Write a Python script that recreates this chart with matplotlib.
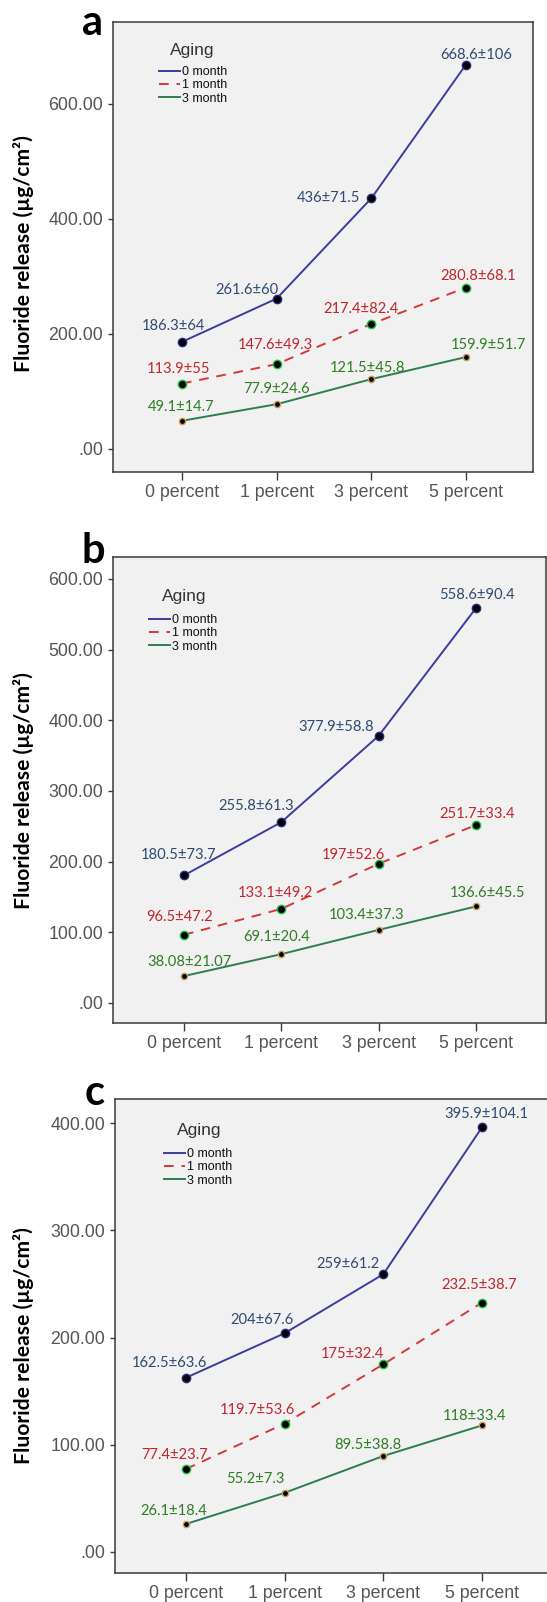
import matplotlib
matplotlib.use("Agg")
import matplotlib.pyplot as plt

W, H = 547, 1602

months = ["0 month", "1 month", "3 month"]
categories = ["0 percent", "1 percent", "3 percent", "5 percent"]

# panel a
a_mean = [[186.3, 261.6, 436, 668.6],
          [113.9, 147.6, 217.4, 280.8],
          [49.1, 77.9, 121.5, 159.9]]
a_sd = [[64, 60, 71.5, 106],
        [55, 49.3, 82.4, 68.1],
        [14.7, 24.6, 45.8, 51.7]]
a_yticks = [0, 200, 400, 600]

# panel b
b_mean = [[180.5, 255.8, 377.9, 558.6],
          [96.5, 133.1, 197, 251.7],
          [38.08, 69.1, 103.4, 136.6]]
b_sd = [[73.7, 61.3, 58.8, 90.4],
        [47.2, 49.2, 52.6, 33.4],
        [21.07, 20.4, 37.3, 45.5]]
b_yticks = [0, 100, 200, 300, 400, 500, 600]

# panel c
c_mean = [[162.5, 204, 259, 395.9],
          [77.4, 119.7, 175, 232.5],
          [26.1, 55.2, 89.5, 118]]
c_sd = [[63.6, 67.6, 61.2, 104.1],
        [23.7, 53.6, 32.4, 38.7],
        [18.4, 7.3, 38.8, 33.4]]
c_yticks = [0, 100, 200, 300, 400]

line_colors = ["#3c3c9c", "#d23a3a", "#2e7d4e"]
text_colors = ["#2f4a70", "#c0262b", "#2f7d24"]
marker_edges = ["#2a2a80", "#1fc040", "#c8a060"]
marker_sizes = [6, 6, 4.5]
line_styles = ["-", (0, (5, 4)), "-"]

# label offsets in pixels (dx, dy up) per panel / series / point
a_off = [[(-8.5, 17), (-30, 10), (-43, 1.5), (10, 11)],
         [(-3.5, 15.5), (-1, 20), (-10.5, 16), (12, 13)],
         [(-1, 15), (0, 16.5), (-4, 12.5), (22, 13)]]
b_off = [[(-5, 21.5), (-25, 17), (-42, 10), (1.5, 14)],
         [(-4, 19), (-6, 17.6), (-25.5, 9.5), (1.5, 12.4)],
         [(6, 15.4), (-5, 18), (-12, 16.5), (11.5, 14.5)]]
c_off = [[(-16.6, 15.7), (-23, 14.3), (-35.3, 11.2), (4, 14.7)],
         [(-11.6, 15), (-27, 14.8), (-31, 11.8), (-2.8, 19)],
         [(-12, 14), (-29.4, 15), (-15.4, 12.3), (-7.4, 10.5)]]

panels = [
    # letter, means, sds, yticks, offsets, box px (l, t, r, b), xlim, ylim, letter pos, title pos, legend anchor, ylabel y
    ("a", a_mean, a_sd, a_yticks, a_off, (113, 22, 533, 472), (-0.729, 3.708), (-40, 742.6),
     (82, 35), (192, 50), (159, 66), 254),
    ("b", b_mean, b_sd, b_yticks, b_off, (113, 557, 546, 1023), (-0.729, 3.72), (-28.3, 631),
     (82, 563), (184, 596), (149, 614), 791),
    ("c", c_mean, c_sd, c_yticks, c_off, (115, 1099, 549, 1573), (-0.72, 3.68), (-19.6, 422.4),
     (85, 1105), (199, 1130), (164, 1148), 1346),
]

fig = plt.figure(figsize=(W / 100, H / 100), dpi=100)
fig.patch.set_facecolor("white")

x = list(range(len(categories)))

for (letter, means, sds, yticks, offs, box, xlim, ylim,
     lpos, tpos, legpos, ylab_y) in panels:
    l, t, r, b = box
    ax = fig.add_axes([l / W, 1 - b / H, (r - l) / W, (b - t) / H])
    ax.set_facecolor("#f1f1f1")
    for s in ax.spines.values():
        s.set_color("#3a3a3a")
        s.set_linewidth(1.1)

    for i in range(3):
        ax.plot(x, means[i], linestyle=line_styles[i], color=line_colors[i],
                lw=1.4, label=months[i])
        ax.plot(x, means[i], linestyle="none", marker="o", ms=marker_sizes[i],
                mfc="black", mec=marker_edges[i], mew=1.0)
        for j in range(len(x)):
            dx, dy = offs[i][j]
            ax.annotate(f"{means[i][j]:g}\u00b1{sds[i][j]:g}", (x[j], means[i][j]),
                        xytext=(dx, dy - 5.2), textcoords="offset pixels",
                        ha="center", va="baseline", color=text_colors[i],
                        fontsize=10.6, family="Lato")

    ax.set_xlim(*xlim)
    ax.set_ylim(*ylim)
    ax.set_xticks(x)
    ax.set_xticklabels(categories)
    ax.set_yticks(yticks)
    ax.set_yticklabels([f"{v:.2f}".lstrip("0") if v == 0 else f"{v:.2f}" for v in yticks])
    ax.tick_params(axis="y", direction="out", length=3.6, width=1, pad=3.6,
                   colors="#3a3a3a", labelcolor="#555555", labelsize=12.8)
    ax.tick_params(axis="x", direction="out", length=5.8, width=1, pad=3,
                   colors="#3a3a3a", labelcolor="#555555", labelsize=12.8)
    for lab in ax.get_xticklabels() + ax.get_yticklabels():
        lab.set_family("Liberation Sans")

    leg = ax.legend(loc="upper left", bbox_to_anchor=(legpos[0] / W, 1 - legpos[1] / H),
                    bbox_transform=fig.transFigure, frameon=False, borderpad=0,
                    borderaxespad=0, handlelength=1.7, handletextpad=0.15,
                    labelspacing=0.1, prop={"family": "Liberation Sans", "size": 9})
    for txt in leg.get_texts():
        txt.set_color("#111111")

    fig.text(tpos[0] / W, 1 - tpos[1] / H, "Aging", ha="center", va="center",
             family="Liberation Sans", fontsize=12.5, color="#333333")
    fig.text(lpos[0] / W, 1 - lpos[1] / H, letter, ha="left", va="baseline",
             family="Lato", fontweight="bold", fontsize=30, color="black")
    fig.text(24 / W, 1 - ylab_y / H, "Fluoride release (\u00b5g/cm\u00b2)", rotation=90,
             ha="center", va="center", family="Lato", fontweight="bold",
             fontsize=15.2, color="black")

fig.savefig("out.png", dpi=100)
